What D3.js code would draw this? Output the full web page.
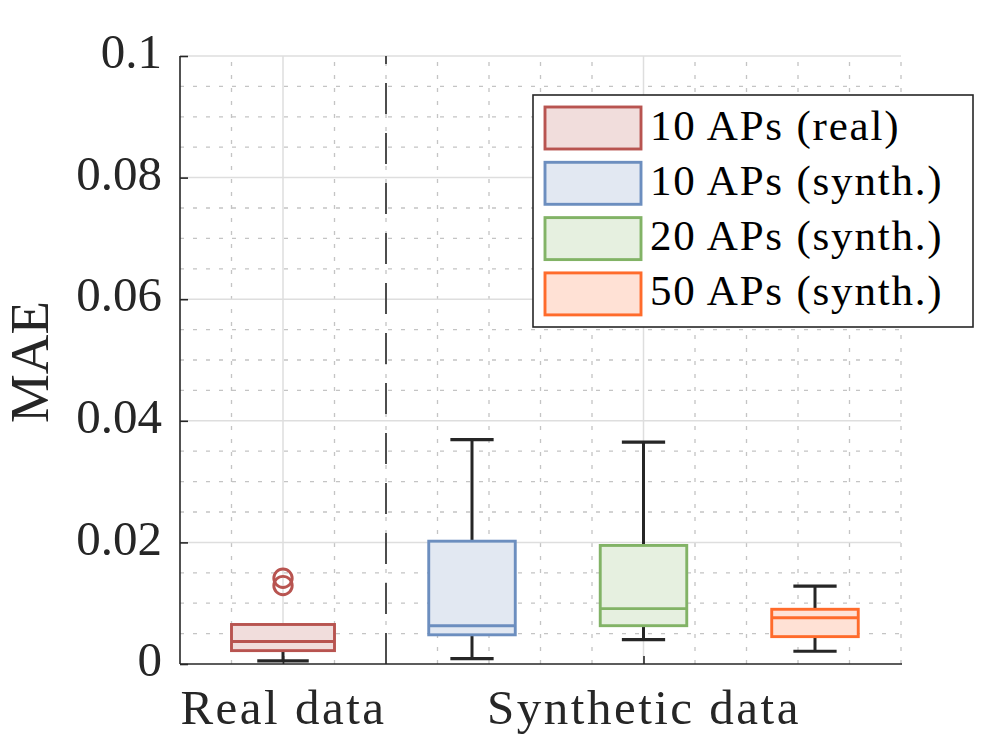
<!DOCTYPE html>
<html>
<head>
<meta charset="utf-8">
<script src="https://cdn.jsdelivr.net/npm/d3@7"></script>
<style>
  html, body { margin: 0; padding: 0; background: #fff; }
  svg { display: block; }
</style>
</head>
<body>
<script>
// Box statistics (MAE)
const groups = ["10 APs (real)", "10 APs (synth.)", "20 APs (synth.)", "50 APs (synth.)"];
const q1 = [0.0022, 0.0048, 0.0063, 0.0045];
const medians = [0.0037, 0.0063, 0.0091, 0.0076];
const q3 = [0.0065, 0.0202, 0.0195, 0.0090];
const whiskerLow = [0.0005, 0.0009, 0.0040, 0.0021];
const whiskerHigh = [0.0065, 0.0369, 0.0365, 0.0128];
const outliers = [[0.0141, 0.0129], [], [], []];
const xTickLabels = ["Real data", "Synthetic data"];
const yTickValues = [0, 0.02, 0.04, 0.06, 0.08, 0.1];

// layout
const width = 996, height = 747;
const marginLeft = 180, marginRight = 95, marginTop = 56, marginBottom = 83;
const positions = [2, 5.67, 9, 12.33]; // box centres on the x axis
const boxWidths = [2, 1.68, 1.68, 1.68];
const xTickPos = [2, 9];
const dividerX = 4;
const colors = ["#b85450", "#6c8ebf", "#82b366", "#ff6b2b"];
const axisColor = "#262626";
const font = "Liberation Serif";

const x = d3.scaleLinear().domain([0, 14]).range([marginLeft, width - marginRight]);
const y = d3.scaleLinear().domain([0, 0.1]).range([height - marginBottom, marginTop]);

const svg = d3.select("body").append("svg")
  .attr("width", width)
  .attr("height", height)
  .attr("font-family", font);

const x0 = x.range()[0], x1 = x.range()[1];
const y0 = y.range()[0], y1 = y.range()[1];

// grid
const grid = svg.append("g");
const minorY = d3.range(0.005, 0.1, 0.005).filter(v => Math.abs(v / 0.02 - Math.round(v / 0.02)) > 1e-6);
const minorX = d3.range(1, 15).filter(v => !xTickPos.includes(v));

grid.selectAll(".my").data(minorY).join("line")
  .attr("x1", x0).attr("x2", x1)
  .attr("y1", d => y(d)).attr("y2", d => y(d))
  .attr("stroke", "#c4c4c4").attr("stroke-width", 1.3).attr("stroke-dasharray", "4,9");
grid.selectAll(".mx").data(minorX).join("line")
  .attr("x1", d => x(d)).attr("x2", d => x(d))
  .attr("y1", y0).attr("y2", y1)
  .attr("stroke", "#c4c4c4").attr("stroke-width", 1.3).attr("stroke-dasharray", "4,9");
grid.selectAll(".My").data(yTickValues.slice(1)).join("line")
  .attr("x1", x0).attr("x2", x1)
  .attr("y1", d => y(d)).attr("y2", d => y(d))
  .attr("stroke", "#dedede").attr("stroke-width", 1.5);
grid.selectAll(".Mx").data(xTickPos).join("line")
  .attr("x1", d => x(d)).attr("x2", d => x(d))
  .attr("y1", y0).attr("y2", y1)
  .attr("stroke", "#dedede").attr("stroke-width", 1.5);

// divider between real and synthetic data (dashes start at the bottom)
svg.append("line")
  .attr("x1", x(dividerX)).attr("x2", x(dividerX))
  .attr("y1", y0).attr("y2", y1)
  .attr("stroke", "#4d4d4d").attr("stroke-width", 2)
  .attr("stroke-dasharray", "31,19");

// boxes
const box = svg.selectAll(".box").data(groups).join("g");

box.append("line") // whisker
  .attr("x1", (d, i) => x(positions[i])).attr("x2", (d, i) => x(positions[i]))
  .attr("y1", (d, i) => y(whiskerLow[i])).attr("y2", (d, i) => y(whiskerHigh[i]))
  .attr("stroke", axisColor).attr("stroke-width", 3);
box.each(function (d, i) {
  const g = d3.select(this);
  const half = (x(boxWidths[i]) - x(0)) / 4;
  const cx = x(positions[i]);
  [whiskerLow[i], whiskerHigh[i]].forEach(v => {
    if (v === q1[i] || v === q3[i]) return;
    g.append("line")
      .attr("x1", cx - half).attr("x2", cx + half)
      .attr("y1", y(v)).attr("y2", y(v))
      .attr("stroke", axisColor).attr("stroke-width", 3.2);
  });
});
box.append("rect")
  .attr("x", (d, i) => x(positions[i] - boxWidths[i] / 2))
  .attr("width", (d, i) => x(boxWidths[i]) - x(0))
  .attr("y", (d, i) => y(q3[i]))
  .attr("height", (d, i) => y(q1[i]) - y(q3[i]))
  .attr("fill", "#fff");
box.append("rect")
  .attr("x", (d, i) => x(positions[i] - boxWidths[i] / 2))
  .attr("width", (d, i) => x(boxWidths[i]) - x(0))
  .attr("y", (d, i) => y(q3[i]))
  .attr("height", (d, i) => y(q1[i]) - y(q3[i]))
  .attr("fill", (d, i) => colors[i]).attr("fill-opacity", 0.2)
  .attr("stroke", (d, i) => colors[i]).attr("stroke-width", 2.9);
box.append("line") // median
  .attr("x1", (d, i) => x(positions[i] - boxWidths[i] / 2))
  .attr("x2", (d, i) => x(positions[i] + boxWidths[i] / 2))
  .attr("y1", (d, i) => y(medians[i])).attr("y2", (d, i) => y(medians[i]))
  .attr("stroke", (d, i) => colors[i]).attr("stroke-width", 2.9);
box.each(function (d, i) {
  d3.select(this).selectAll("circle").data(outliers[i]).join("circle")
    .attr("cx", x(positions[i])).attr("cy", v => y(v)).attr("r", 9.2)
    .attr("fill", "none").attr("stroke", colors[i]).attr("stroke-width", 2.9);
});

// axes
const yAxis = svg.append("g")
  .attr("transform", `translate(${x0},0)`)
  .call(d3.axisLeft(y).tickValues(yTickValues).tickSize(-8).tickPadding(18)
    .tickFormat(d => d === 0 ? "0" : d3.format("~g")(d)));
yAxis.select(".domain").attr("stroke", axisColor).attr("stroke-width", 1.6)
  .attr("d", `M0,${y1}V${y0}`);
yAxis.selectAll(".tick line").attr("stroke", axisColor).attr("stroke-width", 1.6);
yAxis.selectAll(".tick text")
  .attr("font-family", font).attr("font-size", 49).attr("fill", axisColor)
  .attr("dy", "0.24em").attr("x", -18);

const xAxis = svg.append("g")
  .attr("transform", `translate(0,${y0})`)
  .call(d3.axisBottom(x).tickValues(xTickPos).tickSize(-8).tickPadding(18)
    .tickFormat((d, i) => xTickLabels[i]));
xAxis.select(".domain").attr("stroke", axisColor).attr("stroke-width", 1.6)
  .attr("d", `M${x0},0H${x1 + 1}`);
xAxis.selectAll(".tick line").attr("stroke", axisColor).attr("stroke-width", 1.6);
xAxis.selectAll(".tick text")
  .attr("font-family", font).attr("font-size", 49).attr("fill", axisColor)
  .attr("letter-spacing", 2.5)
  .attr("dy", null).attr("y", 60);

svg.append("text")
  .attr("transform", `translate(48,${(y0 + y1) / 2 + 2}) rotate(-90)`)
  .attr("text-anchor", "middle")
  .attr("font-size", 55).attr("fill", axisColor)
  .text("MAE");

// legend
const legend = svg.append("g");
legend.append("rect")
  .attr("x", 533).attr("y", 95).attr("width", 440).attr("height", 232)
  .attr("fill", "#fff").attr("stroke", axisColor).attr("stroke-width", 1.6);
const item = legend.selectAll(".item").data(groups).join("g")
  .attr("transform", (d, i) => `translate(545,${107 + i * 55.3})`);
item.append("rect")
  .attr("width", 96).attr("height", 42)
  .attr("fill", (d, i) => colors[i]).attr("fill-opacity", 0.2)
  .attr("stroke", (d, i) => colors[i]).attr("stroke-width", 2.9);
item.append("text")
  .attr("x", 105).attr("y", 32.5)
  .attr("font-size", 43).attr("fill", "#000")
  .attr("letter-spacing", 1.8)
  .text(d => d);
</script>
</body>
</html>
